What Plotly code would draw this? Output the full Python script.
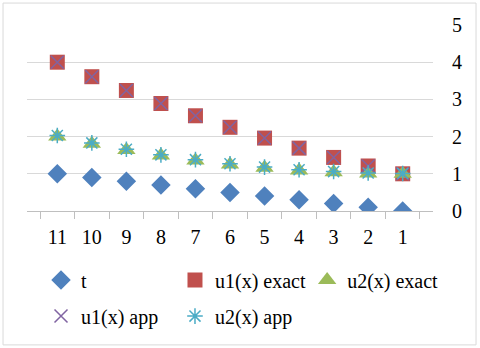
import plotly.graph_objects as go

cats = ["11", "10", "9", "8", "7", "6", "5", "4", "3", "2", "1"]
t = [1.0, 0.9, 0.8, 0.7, 0.6, 0.5, 0.4, 0.3, 0.2, 0.1, 0.0]
u1_exact = [4.0, 3.61, 3.24, 2.89, 2.56, 2.25, 1.96, 1.69, 1.44, 1.21, 1.0]
u2_exact = [2.0, 1.81, 1.64, 1.49, 1.36, 1.25, 1.16, 1.09, 1.04, 1.01, 1.0]
u1_app = [4.0, 3.61, 3.24, 2.89, 2.56, 2.25, 1.96, 1.69, 1.44, 1.21, 1.0]
u2_app = [2.03, 1.83, 1.66, 1.51, 1.38, 1.27, 1.18, 1.11, 1.06, 1.02, 1.01]

font = dict(family="Liberation Serif", size=20, color="black")

fig = go.Figure()
fig.add_trace(go.Scatter(x=cats, y=t, name="t", mode="markers", legend="legend", showlegend=True,
                         marker=dict(symbol="diamond", size=15, color="#4F81BD")))
fig.add_trace(go.Scatter(x=cats, y=u1_exact, name="u1(x) exact", mode="markers", legend="legend2",
                         marker=dict(symbol="square", size=15, color="#C0504D")))
fig.add_trace(go.Scatter(x=cats, y=u2_exact, name="u2(x) exact", mode="markers", legend="legend3",
                         marker=dict(symbol="triangle-up", size=16, color="#9BBB59")))
fig.add_trace(go.Scatter(x=cats, y=u1_app, name="u1(x) app", mode="markers", legend="legend4",
                         marker=dict(symbol="x-thin", size=13, line=dict(color="#8064A2", width=1.5))))
fig.add_trace(go.Scatter(x=cats, y=u2_app, name="u2(x) app", mode="markers", legend="legend5",
                         marker=dict(symbol="asterisk", size=13, line=dict(color="#4BACC6", width=1.5))))

# one legend per entry so each can sit in its own column
leg = dict(orientation="h", xanchor="left", yanchor="middle", itemwidth=30,
           font=font, bgcolor="rgba(0,0,0,0)")

fig.update_layout(
    width=480, height=348, autosize=False,
    margin=dict(l=27, r=47, t=25, b=137, autoexpand=False),
    plot_bgcolor="white", paper_bgcolor="white",
    font=font,
    showlegend=True,
    legend=dict(leg, x=0.0345, y=-0.371),
    legend2=dict(leg, x=0.3645, y=-0.371),
    legend3=dict(leg, x=0.69, y=-0.371),
    legend4=dict(leg, x=0.0345, y=-0.565),
    legend5=dict(leg, x=0.3645, y=-0.565),
    shapes=[dict(type="rect", xref="paper", yref="paper", x0=-0.059, x1=1.106, y0=-0.72, y1=1.118,
                 line=dict(color="#d9d9d9", width=1))],
)
fig.update_xaxes(type="category", showgrid=False, showline=True, linecolor="#bfbfbf",
                 ticks="outside", tickson="boundaries", ticklen=7, tickcolor="#bfbfbf",
                 tickfont=font, zeroline=False, ticklabelstandoff=8)
fig.update_yaxes(side="right", range=[0, 5], dtick=1, showgrid=True, gridcolor="#d9d9d9",
                 zeroline=False, showline=False, tickfont=font, ticklabelstandoff=18)

# the page body has an 8px default margin
fig.write_html("out.html", config=dict(displayModeBar=False),
               post_script="document.body.style.margin='0';")
